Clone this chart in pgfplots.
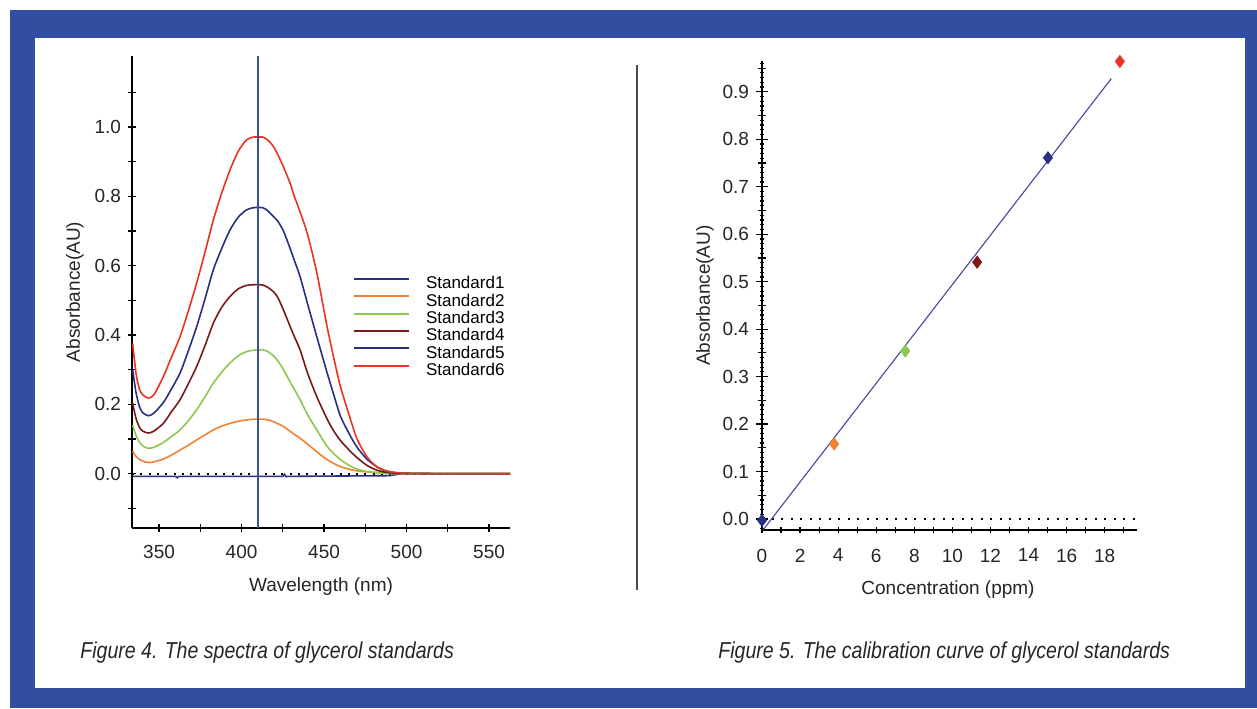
\documentclass[border=0pt]{standalone}
\usepackage{fontspec}
\setmainfont{Liberation Sans}
\newfontfamily\capfont[FakeStretch=0.85]{Liberation Sans}
\usepackage{pgfplots}
\pgfplotsset{compat=1.18}

\definecolor{frameblue}{RGB}{50,78,160}
\definecolor{stdnavy}{RGB}{40,48,130}
\definecolor{stdorange}{RGB}{240,130,50}
\definecolor{stdgreen}{RGB}{140,200,80}
\definecolor{stdmaroon}{RGB}{120,25,25}
\definecolor{stdred}{RGB}{235,50,35}
\definecolor{vline}{RGB}{60,80,150}
\definecolor{regline}{RGB}{70,70,150}

\begin{document}
\begin{tikzpicture}
\useasboundingbox (0,0) rectangle (628.5pt,354pt);
% frame
\fill[frameblue] (5pt,0) rectangle (628.5pt,349pt);
\fill[white] (17.5pt,10pt) rectangle (622.5pt,335pt);
\draw[gray!60!black, line width=0.8pt] (318.5pt,59pt) -- (318.5pt,321.5pt);

\node[anchor=west, inner sep=0pt, font=\capfont\itshape\fontsize{11.5}{13}\selectfont, text=black!85]
  at (40pt,27.5pt) {Figure 4. The spectra of glycerol standards};
\node[anchor=west, inner sep=0pt, font=\capfont\itshape\fontsize{11.5}{13}\selectfont, text=black!85]
  at (359pt,27.5pt) {Figure 5. The calibration curve of glycerol standards};

% ---- Figure 4: spectra
\begin{axis}[
  at={(66pt,90pt)}, anchor=south west,
  width=189pt, height=236pt, scale only axis,
  xmin=333.6, xmax=562.7, ymin=-0.157, ymax=1.205,
  axis lines=left, axis line style={-, line width=0.7pt, black},
  tick align=center, major tick length=4pt, minor tick length=4pt,
  tick style={black, line width=0.6pt},
  xtick={350,400,450,500,550}, minor xtick={375,425,475,525},
  ytick={0,0.2,0.4,0.6,0.8,1.0}, minor ytick={-0.1,0.1,0.3,0.5,0.7,0.9,1.1},
  /pgf/number format/assume math mode=true,
  tick label style={font=\fontsize{9.5}{11}\selectfont, text=black!85},
  yticklabel style={/pgf/number format/.cd, fixed, fixed zerofill, precision=1},
  xticklabel style={yshift=-2.9pt},
  label style={font=\fontsize{9.5}{11}\selectfont, text=black!85},
  xlabel={Wavelength (nm)}, ylabel={Absorbance(AU)},
  xlabel style={at={(axis description cs:0.5,-0.125)}, anchor=center},
  ylabel style={at={(axis description cs:-0.151,0.5)}, anchor=center},
  legend style={at={(axis description cs:0.5847,0.534)}, anchor=north west,
    draw=none, fill=none, inner sep=0pt, outer sep=0pt, row sep=0pt, column sep=8pt,
    font=\fontsize{8.5}{9}\selectfont,
    nodes={inner sep=0pt, text height=6.5pt, text depth=2.15pt}},
  legend cell align=left,
  legend image code/.code={\draw[#1, line width=1pt] (0pt,2.8pt) -- (27.5pt,2.8pt);},
  every axis plot/.append style={line width=0.8pt, no markers, smooth, tension=0.45},
]
\addplot[black, line width=1pt, dash pattern=on 1pt off 3.15pt, sharp plot, forget plot]
  coordinates {(333.6,0) (562.7,0)};

\addplot[stdnavy, sharp plot] coordinates {
(334,-0.008) (360,-0.008) (361,-0.012) (362,-0.008) (425,-0.008) (426,-0.002)
(427,-0.009) (428,-0.008) (490,-0.006) (497,0) (563,0)};
\addlegendentry{Standard1}

\addplot[stdorange] coordinates {
(334,0.064) (336,0.050) (338,0.041) (340,0.036) (343.5,0.032) (347,0.034)
(352.6,0.042) (357,0.052) (362.7,0.068) (367.8,0.082) (372.8,0.097) (377.9,0.112)
(382.9,0.126) (388,0.137) (393,0.145) (398,0.151) (403,0.155) (407,0.157)
(410,0.157) (413,0.157) (416,0.155) (419.3,0.150) (422,0.144) (425.4,0.136)
(429.4,0.122) (432,0.113) (435.5,0.102) (440,0.085) (445.6,0.063) (451.6,0.041)
(455.6,0.030) (460,0.020) (465.8,0.012) (470,0.008) (475.9,0.005) (481.9,0.003)
(487,0.001) (500,0) (563,0)};
\addlegendentry{Standard2}

\addplot[stdgreen] coordinates {
(334,0.140) (336,0.110) (338,0.092) (340,0.080) (343.5,0.073) (347,0.076)
(352.6,0.090) (357,0.105) (362.7,0.126) (367.8,0.153) (372.8,0.184) (377.9,0.222)
(382.9,0.261) (388,0.293) (393,0.319) (398,0.340) (403,0.352) (407,0.356)
(410,0.357) (413,0.357) (416,0.352) (419.3,0.340) (422,0.325) (425.4,0.300)
(429.4,0.265) (432,0.243) (435.5,0.213) (440,0.170) (445.6,0.126) (451.6,0.080)
(455.6,0.059) (460,0.040) (465.8,0.022) (470,0.013) (475.9,0.006) (481.9,0.003)
(487,0.001) (500,0) (563,0)};
\addlegendentry{Standard3}

\addplot[stdmaroon] coordinates {
(334,0.203) (336,0.160) (338,0.135) (340,0.123) (343.5,0.117) (347,0.123)
(352.6,0.145) (357,0.175) (362.7,0.213) (367.8,0.260) (372.8,0.309) (377.9,0.370)
(382.9,0.434) (388,0.480) (393,0.511) (398,0.533) (403,0.543) (407,0.545)
(410,0.545) (413,0.544) (416,0.537) (419.3,0.525) (422,0.508) (425.4,0.472)
(429.4,0.425) (432,0.395) (435.5,0.357) (440,0.290) (445.6,0.222) (451.6,0.160)
(455.6,0.125) (460,0.095) (465.8,0.065) (470,0.046) (475.9,0.024) (481.9,0.010)
(487,0.004) (492,0.0015) (500,0) (563,0)};
\addlegendentry{Standard4}

\addplot[stdnavy] coordinates {
(334,0.300) (336,0.235) (338,0.195) (340,0.176) (343.5,0.167) (347,0.175)
(352.6,0.205) (357,0.240) (362.7,0.290) (367.8,0.355) (372.8,0.424) (377.9,0.505)
(382.9,0.588) (388,0.650) (393,0.703) (398,0.740) (403,0.761) (407,0.767)
(410,0.768) (413,0.767) (416,0.758) (419.3,0.742) (422,0.728) (425.4,0.700)
(429.4,0.650) (432,0.615) (435.5,0.568) (440,0.490) (445.6,0.395) (451.6,0.295)
(455.6,0.232) (460,0.165) (465.8,0.110) (470,0.076) (475.9,0.042) (481.9,0.020)
(487,0.008) (492,0.003) (500,0.001) (520,0) (563,0)};
\addlegendentry{Standard5}

\addplot[stdred] coordinates {
(334,0.376) (336,0.290) (338,0.245) (340,0.228) (343.5,0.218) (347,0.228)
(352.6,0.280) (357,0.330) (362.7,0.395) (367.8,0.470) (372.8,0.550) (377.9,0.640)
(382.9,0.732) (388,0.810) (393,0.876) (398,0.930) (403,0.963) (407,0.971)
(410,0.971) (413,0.971) (416,0.962) (419.3,0.944) (422,0.920) (425.4,0.885)
(429.4,0.838) (432,0.800) (435.5,0.755) (440,0.690) (445.6,0.580) (451.6,0.430)
(455.6,0.340) (460,0.250) (465.8,0.160) (470,0.100) (475.9,0.049) (481.9,0.020)
(487,0.009) (492,0.004) (500,0.001) (520,0) (563,0)};
\addlegendentry{Standard6}

\addplot[vline, line width=0.8pt, sharp plot, forget plot] coordinates {(410,-0.157) (410,1.205)};
\end{axis}

% ---- Figure 5: calibration curve
\begin{axis}[
  at={(381pt,89pt)}, anchor=south west,
  width=187.5pt, height=234.5pt, scale only axis,
  xmin=0, xmax=19.7, ymin=-0.0232, ymax=0.965,
  clip=false,
  axis lines=left, axis line style={-, line width=0.7pt, black},
  tick align=center, major tick length=6pt, minor tick length=2pt,
  tick style={black, line width=0.6pt},
  xtick=\empty,
  extra x ticks={0,1,...,19},
  extra x tick labels={0,,2,,4,,6,,8,,10,,12,,14,,16,,18,},
  extra x tick style={major tick length=3pt, tick align=center},
  ytick={0,0.1,0.2,0.3,0.4,0.5,0.6,0.7,0.8,0.9},
  minor ytick={-0.02,-0.01,...,0.96},
  extra y ticks={0.05,0.15,0.25,0.35,0.45,0.55,0.65,0.75,0.85,0.95},
  extra y tick labels={},
  extra y tick style={major tick length=4pt, tick align=center},
  /pgf/number format/assume math mode=true,
  tick label style={font=\fontsize{9.5}{11}\selectfont, text=black!85},
  yticklabel style={/pgf/number format/.cd, fixed, fixed zerofill, precision=1},
  xticklabel style={yshift=-4.4pt},
  label style={font=\fontsize{9.5}{11}\selectfont, text=black!85},
  xlabel={Concentration (ppm)}, ylabel={Absorbance(AU)},
  xlabel style={at={(axis description cs:0.496,-0.128)}, anchor=center},
  ylabel style={at={(axis description cs:-0.152,0.5)}, anchor=center},
]
\addplot[black, line width=1pt, dash pattern=on 1pt off 3.75pt]
  coordinates {(0,0) (19.7,0)};
\addplot[regline, line width=0.55pt] coordinates {(0.054,-0.0232) (18.35,0.928)};
\addplot[only marks, mark=diamond*, mark size=3pt, color=stdnavy] coordinates {(0,-0.003)};
\addplot[only marks, mark=diamond*, mark size=3pt, color=stdorange] coordinates {(3.79,0.158)};
\addplot[only marks, mark=diamond*, mark size=3pt, color=stdgreen] coordinates {(7.53,0.354)};
\addplot[only marks, mark=diamond*, mark size=3pt, color=stdmaroon!90!red] coordinates {(11.3,0.541)};
\addplot[only marks, mark=diamond*, mark size=3pt, color=stdnavy] coordinates {(15.02,0.761)};
\addplot[only marks, mark=diamond*, mark size=3pt, color=stdred] coordinates {(18.8,0.964)};
\end{axis}
\end{tikzpicture}
\end{document}
